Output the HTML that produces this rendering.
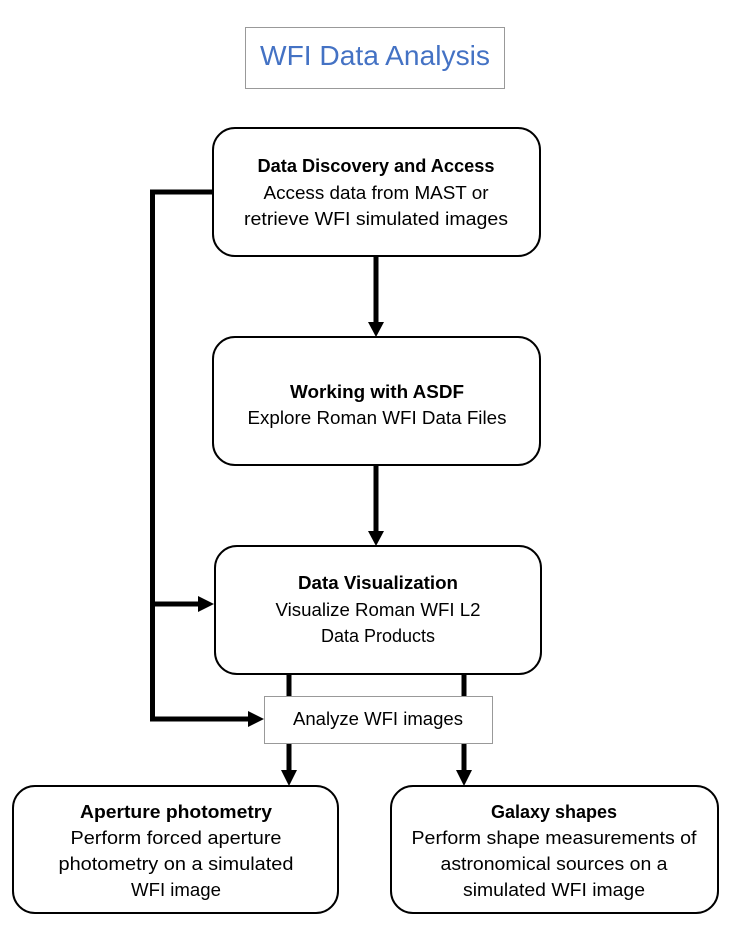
<!DOCTYPE html>
<html><head><meta charset="utf-8"><style>
html,body{margin:0;padding:0;background:#fff;}
svg{display:block;}
text{font-family:"Liberation Sans",sans-serif;font-size:18px;fill:#000;}
.b{font-weight:bold;}
</style></head><body>
<svg width="734" height="936" viewBox="0 0 734 936" xmlns="http://www.w3.org/2000/svg">
<!-- title -->
<rect x="245.5" y="27.5" width="259" height="61" fill="#fff" stroke="#999" stroke-width="1"/>
<text x="375" y="65" text-anchor="middle" style="font-size:28px;fill:#4472C4" textLength="230" lengthAdjust="spacingAndGlyphs">WFI Data Analysis</text>

<!-- connectors -->
<g stroke="#000" stroke-width="5" fill="none">
<polyline points="213,192 152.5,192 152.5,719 248,719"/>
<line x1="152.5" y1="604" x2="198" y2="604"/>
<line x1="376" y1="256" x2="376" y2="322"/>
<line x1="376" y1="465" x2="376" y2="531"/>
<line x1="289" y1="674" x2="289" y2="697"/>
<line x1="464" y1="674" x2="464" y2="697"/>
<line x1="289" y1="743" x2="289" y2="770"/>
<line x1="464" y1="743" x2="464" y2="770"/>
</g>
<g fill="#000">
<polygon points="198,596 214,604 198,612"/>
<polygon points="248,711 264,719 248,727"/>
<polygon points="368,322 376,337 384,322"/>
<polygon points="368,531 376,546 384,531"/>
<polygon points="281,770 289,786 297,770"/>
<polygon points="456,770 464,786 472,770"/>
</g>

<!-- boxes -->
<g fill="#fff" stroke="#000" stroke-width="2">
<rect x="213" y="128" width="327" height="128" rx="22"/>
<rect x="213" y="337" width="327" height="128" rx="22"/>
<rect x="215" y="546" width="326" height="128" rx="22"/>
<rect x="13" y="786" width="325" height="127" rx="22"/>
<rect x="391" y="786" width="327" height="127" rx="22"/>
</g>
<rect x="264.5" y="696.5" width="228" height="47" fill="#fff" stroke="#999" stroke-width="1"/>

<!-- texts -->
<text class="b" x="376" y="172" text-anchor="middle" textLength="237" lengthAdjust="spacingAndGlyphs">Data Discovery and Access</text>
<text x="376" y="199" text-anchor="middle" textLength="225" lengthAdjust="spacingAndGlyphs">Access data from MAST or</text>
<text x="376" y="225" text-anchor="middle" textLength="264" lengthAdjust="spacingAndGlyphs">retrieve WFI simulated images</text>

<text class="b" x="377" y="398" text-anchor="middle" textLength="174" lengthAdjust="spacingAndGlyphs">Working with ASDF</text>
<text x="377" y="424" text-anchor="middle" textLength="259" lengthAdjust="spacingAndGlyphs">Explore Roman WFI Data Files</text>

<text class="b" x="378" y="589" text-anchor="middle" textLength="160" lengthAdjust="spacingAndGlyphs">Data Visualization</text>
<text x="378" y="616" text-anchor="middle" textLength="205" lengthAdjust="spacingAndGlyphs">Visualize Roman WFI L2</text>
<text x="378" y="642" text-anchor="middle" textLength="114" lengthAdjust="spacingAndGlyphs">Data Products</text>

<text x="378" y="725" text-anchor="middle" textLength="170" lengthAdjust="spacingAndGlyphs">Analyze WFI images</text>

<text class="b" x="176" y="818" text-anchor="middle" textLength="192" lengthAdjust="spacingAndGlyphs">Aperture photometry</text>
<text x="176" y="844" text-anchor="middle" textLength="211" lengthAdjust="spacingAndGlyphs">Perform forced aperture</text>
<text x="176" y="870" text-anchor="middle" textLength="235" lengthAdjust="spacingAndGlyphs">photometry on a simulated</text>
<text x="176" y="896" text-anchor="middle" textLength="90" lengthAdjust="spacingAndGlyphs">WFI image</text>

<text class="b" x="554" y="818" text-anchor="middle" textLength="126" lengthAdjust="spacingAndGlyphs">Galaxy shapes</text>
<text x="554" y="844" text-anchor="middle" textLength="285" lengthAdjust="spacingAndGlyphs">Perform shape measurements of</text>
<text x="554" y="870" text-anchor="middle" textLength="227" lengthAdjust="spacingAndGlyphs">astronomical sources on a</text>
<text x="554" y="896" text-anchor="middle" textLength="182" lengthAdjust="spacingAndGlyphs">simulated WFI image</text>
</svg>
</body></html>
